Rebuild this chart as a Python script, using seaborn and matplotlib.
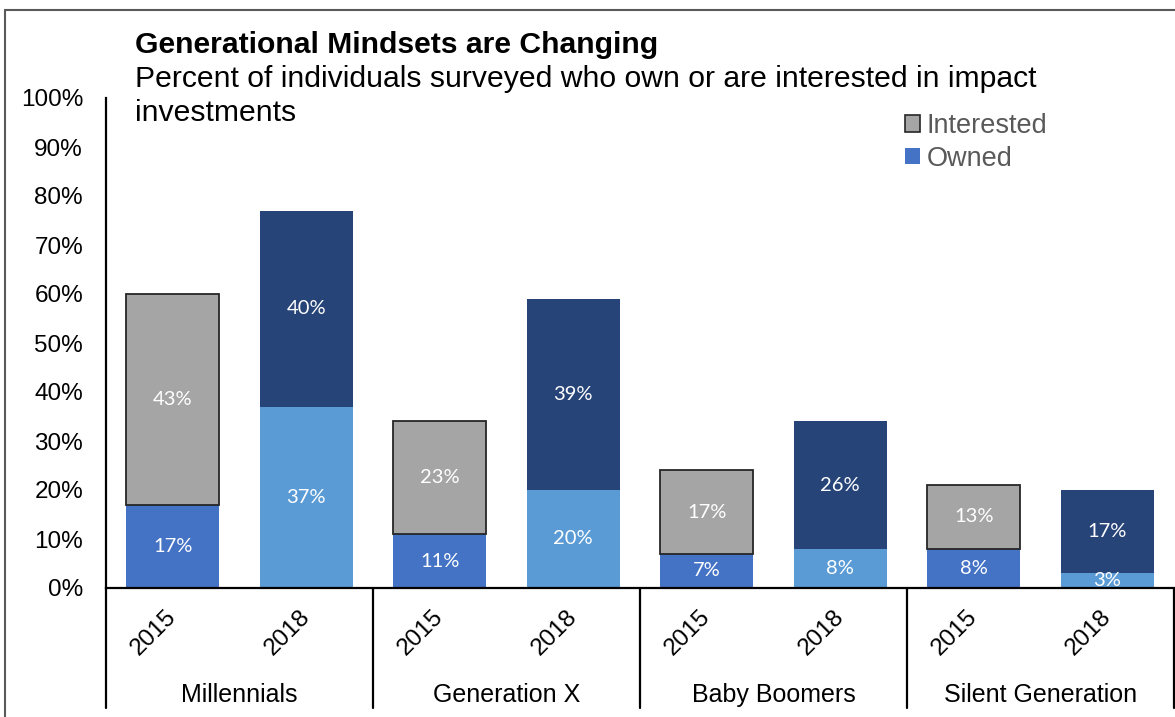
import matplotlib
matplotlib.use("Agg")
import matplotlib.pyplot as plt
import matplotlib.transforms as mtransforms
from matplotlib.patches import Patch
from matplotlib.lines import Line2D
import seaborn as sns
import pandas as pd

# ---------------- data ----------------
generations = ["Millennials", "Generation X", "Baby Boomers", "Silent Generation"]
years = ["2015", "2018"]
owned_2015 = [17, 11, 7, 8]
interested_2015 = [43, 23, 17, 13]
owned_2018 = [37, 20, 8, 3]
interested_2018 = [40, 39, 26, 17]
y_ticks = [0, 10, 20, 30, 40, 50, 60, 70, 80, 90, 100]
title = "Generational Mindsets are Changing"
subtitle_1 = "Percent of individuals surveyed who own or are interested in impact"
subtitle_2 = "investments"
legend_labels = ["Interested", "Owned"]

# colours
c_owned_2015 = "#4472C4"
c_int_2015 = "#A5A5A5"
c_owned_2018 = "#5B9BD5"
c_int_2018 = "#264478"

rows = []
for i, g in enumerate(generations):
    rows.append(dict(slot=f"{g} 2015", gen=g, year="2015",
                     owned=owned_2015[i], interested=interested_2015[i]))
    rows.append(dict(slot=f"{g} 2018", gen=g, year="2018",
                     owned=owned_2018[i], interested=interested_2018[i]))
df = pd.DataFrame(rows)
slots = list(df["slot"])
pal_owned = {s: (c_owned_2015 if s.endswith("2015") else c_owned_2018) for s in slots}
pal_int = {s: (c_int_2015 if s.endswith("2015") else c_int_2018) for s in slots}

# ---------------- figure ----------------
sns.set_theme(style="white")
plt.rcParams["font.family"] = ["Liberation Sans", "DejaVu Sans"]

W, H = 1175, 717
fig = plt.figure(figsize=(W / 100, H / 100), dpi=100)
fig.patch.set_facecolor("white")

ax_l, ax_r, ax_t, ax_b = 106, 1174, 98, 588
ax = fig.add_axes([ax_l / W, 1 - ax_b / H, (ax_r - ax_l) / W, (ax_b - ax_t) / H])
ax.set_facecolor("white")

sns.barplot(data=df, x="slot", y="owned", hue="slot", order=slots, hue_order=slots,
            palette=pal_owned, width=0.7, saturation=1, legend=False, ax=ax,
            linewidth=0, errorbar=None)
n_before = len(ax.patches)
sns.barplot(data=df, x="slot", y="interested", hue="slot", order=slots, hue_order=slots,
            palette=pal_int, width=0.7, saturation=1, legend=False, ax=ax,
            linewidth=0, errorbar=None)
int_patches = ax.patches[n_before:]
# stack interested on top of owned
for p in int_patches:
    xc = p.get_x() + p.get_width() / 2
    idx = int(round(xc))
    p.set_y(df["owned"].iloc[idx])
    if df["year"].iloc[idx] == "2015":
        p.set_edgecolor("#262626")
        p.set_linewidth(1.3)
    else:
        p.set_linewidth(0)

ax.set_xlim(-0.5, 7.5)
ax.set_ylim(0, 100)
ax.set_xlabel("")
ax.set_ylabel("")
ax.set_xticks([])
ax.set_yticks(y_ticks)
ax.set_yticklabels([f"{v}%" for v in y_ticks], fontsize=17.5, color="black")
ax.tick_params(axis="y", length=0, pad=16.5)
for s in ["top", "right"]:
    ax.spines[s].set_visible(False)
for s in ["left", "bottom"]:
    ax.spines[s].set_color("black")
    ax.spines[s].set_linewidth(1.6)
ax.grid(False)

# data labels
lab_font = ["Lato", "DejaVu Sans"]
for i in range(len(df)):
    o = df["owned"].iloc[i]
    it = df["interested"].iloc[i]
    ax.text(i, o / 2, f"{o}%", ha="center", va="center", color="white",
            fontsize=14.5, family=lab_font, clip_on=True, zorder=2)
    ax.text(i, o + it / 2, f"{it}%", ha="center", va="center", color="white",
            fontsize=14.5, family=lab_font, clip_on=True, zorder=2)

# separators below axis
trans = mtransforms.blended_transform_factory(ax.transData, ax.transAxes)
sep_bottom = -(708 - ax_b) / (ax_b - ax_t)
for xb in [-0.5, 1.5, 3.5, 5.5, 7.5]:
    ax.add_line(Line2D([xb, xb], [0, sep_bottom], transform=trans, color="black",
                       linewidth=1.6, clip_on=False))

# year labels
px_per_unit = (ax_r - ax_l) / 8
year_y = -(633 - ax_b) / (ax_b - ax_t)
for i in range(len(df)):
    ax.text(i - 19 / px_per_unit, year_y, df["year"].iloc[i], rotation=45,
            ha="center", va="center", fontsize=17.5, color="black", transform=trans)

# generation labels
gen_y = -(702 - ax_b) / (ax_b - ax_t)
for k, g in enumerate(generations):
    ax.text(2 * k + 0.5, gen_y, g, ha="center", va="baseline", fontsize=18,
            color="black", transform=trans)

# titles
fig.text(135 / W, 1 - 53 / H, title, fontsize=21.7, fontweight="bold", color="black",
         ha="left", va="baseline")
fig.text(135 / W, 1 - 87 / H, subtitle_1, fontsize=21.7, color="black",
         ha="left", va="baseline")
fig.text(135 / W, 1 - 121 / H, subtitle_2, fontsize=21.7, color="black",
         ha="left", va="baseline")

# legend
handles = [Patch(facecolor=c_int_2015, edgecolor="#262626", linewidth=1.2),
           Patch(facecolor=c_owned_2015, edgecolor="none")]
leg = fig.legend(handles, legend_labels, loc="upper left",
                 bbox_to_anchor=(905 / W, 1 - 113 / H), bbox_transform=fig.transFigure,
                 frameon=False, fontsize=19.5, handlelength=0.55, handleheight=0.55,
                 handletextpad=0.25, labelspacing=0.25, borderpad=0, borderaxespad=0)
for t in leg.get_texts():
    t.set_color("#595959")

# outer frame (top and left edges)
fig.add_artist(Line2D([5 / W, 1.0], [1 - 10 / H, 1 - 10 / H], transform=fig.transFigure,
                      color="#595959", linewidth=1.5))
fig.add_artist(Line2D([5 / W, 5 / W], [1 - 10 / H, 0], transform=fig.transFigure,
                      color="#595959", linewidth=1.5))

fig.savefig("out.png", dpi=100, facecolor="white")
